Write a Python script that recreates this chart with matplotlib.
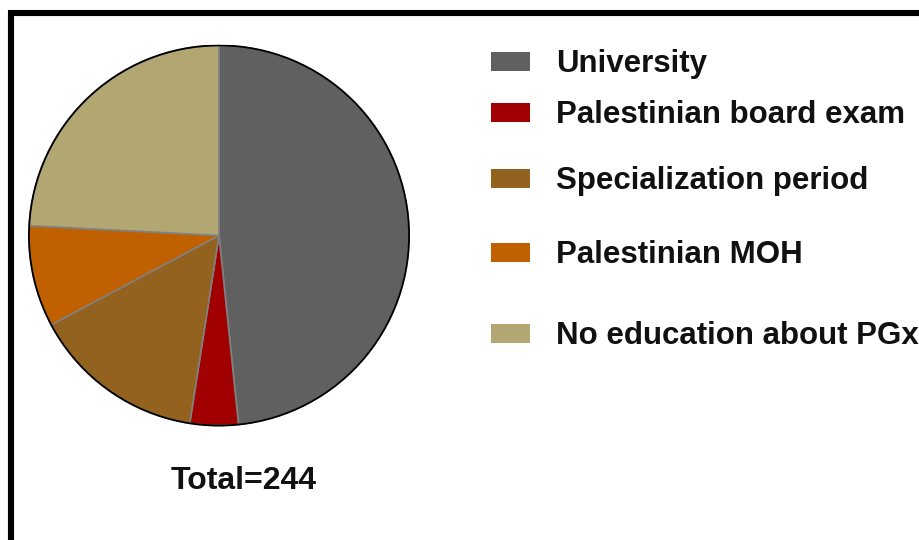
import matplotlib.pyplot as plt
from matplotlib.patches import Rectangle, Circle

plt.rcParams['font.family'] = ['Liberation Sans', 'DejaVu Sans']

# Fuentes de formación en farmacogenómica (n = 244)
labels = ['University', 'Palestinian board exam', 'Specialization period',
          'Palestinian MOH', 'No education about PGx']
counts = [118, 10, 36, 21, 59]
colors = ['#606060', '#a00000', '#93621f', '#c06000', '#b2a672']
total_text = 'Total=244'

W, H = 920, 540
fig = plt.figure(figsize=(W / 100, H / 100), dpi=100)

# marco negro (lados derecho e inferior fuera de la imagen)
fig.add_artist(Rectangle((11 / W, -0.2), 1.2, 1 - 13 / H + 0.2, transform=fig.transFigure,
                         fill=False, edgecolor='black', linewidth=4.4))

# Pastel: centro (219, 235.5) px, radio 191 px
ax = fig.add_axes([28 / W, (H - 426.5) / H, 382 / W, 382 / H])
ax.pie(counts, colors=colors, startangle=90, counterclock=False,
       wedgeprops=dict(edgecolor='#808080', linewidth=1.2))
ax.set_aspect('auto')
ax.set_xlim(-1.005, 1.005)
ax.set_ylim(-1.005, 1.005)
ax.add_patch(Circle((0, 0), 1, fill=False, edgecolor='black', linewidth=1.3))
ax.axis('off')

fig.text(244 / W, 1 - 489 / H, total_text, fontsize=23, fontweight='bold',
         color='#111111', ha='center', va='baseline')

# Leyenda manual (línea base de cada entrada, en píxeles desde arriba)
legend_y = [72, 123, 189, 263, 344]
for lab, col, y in zip(labels, colors, legend_y):
    fig.add_artist(Rectangle((491 / W, 1 - (y - 1) / H), 39 / W, 19 / H,
                             transform=fig.transFigure, facecolor=col, edgecolor='none'))
    fig.text(556 / W, 1 - y / H, lab, fontsize=22.5, fontweight='bold',
             color='#111111', ha='left', va='baseline')

fig.savefig('out.png', dpi=100)
